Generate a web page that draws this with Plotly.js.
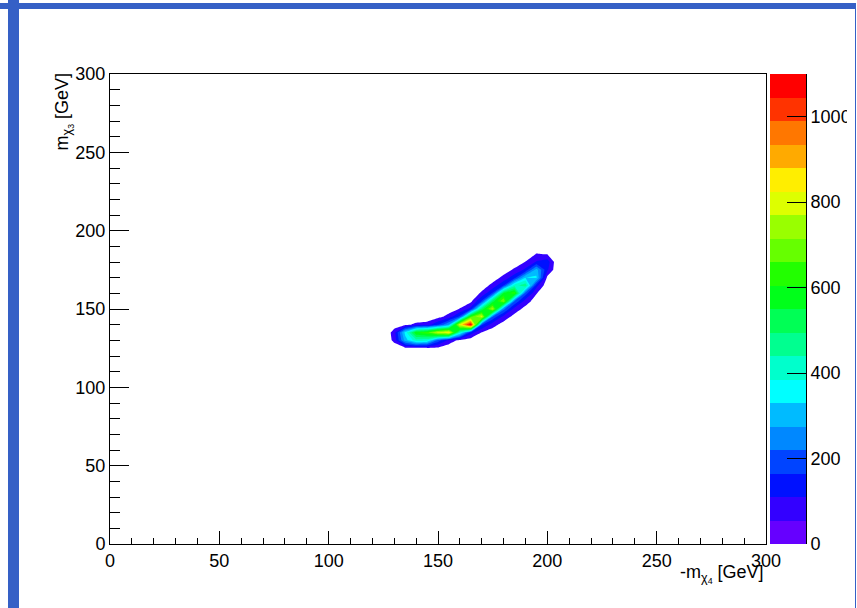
<!DOCTYPE html>
<html><head><meta charset="utf-8">
<script src="https://cdn.plot.ly/plotly-3.0.1.min.js"></script>
<style>
html,body{margin:0;padding:0;background:#fff;width:857px;height:608px;overflow:hidden;position:relative}
#plot{position:absolute;left:0;top:0;width:847px;height:608px}
.bar{position:absolute;background:#3560c6;z-index:5}
</style></head><body>
<div id="plot"></div>
<div class="bar" style="left:0;top:3px;width:856px;height:6px"></div>
<div class="bar" style="left:8px;top:0;width:11px;height:608px"></div>
<div class="bar" style="left:855px;top:3px;width:1px;height:605px"></div>
<script>
// bin centres (GeV)
const xBins = [125,130,135,140,145,150,155,160,165,170,175,180,185,190,195,200,205];
const yBins = [120,125,130,135,140,145,150,155,160,165,170,175,180,185,190];
// entries per bin, one row per yBins value
const counts = [
  [0, 1,  8,  5,  5,  3,  0,  0,   0,  0,  0,  0,  0,  0,  0,  0, 0],
  [0,19, 40, 40, 45, 40, 18,  6,   0,  0,  0,  0,  0,  0,  0,  0, 0],
  [0,72,300,420,400,199, 90, 40,  24, 15,  0,  0,  0,  0,  0,  0, 0],
  [0,82,350,600,650,790,850,400, 136, 51, 27, 12,  0,  0,  0,  0, 0],
  [0,27, 40, 70, 80,160,278,820,1100,174, 75, 33, 13,  0,  0,  0, 0],
  [0, 3,  8, 10, 12, 35, 80,183, 650,800,210, 88, 34, 16,  0,  0, 0],
  [0, 0,  0,  0,  0,  8, 23, 59, 132,500,760,238, 86, 36, 13,  0, 0],
  [0, 0,  0,  0,  0,  0,  5, 19,  40,171,520,720,217, 83, 27,  0, 0],
  [0, 0,  0,  0,  0,  0,  0,  5,  12, 66,175,560,640,192, 59,  0, 0],
  [0, 0,  0,  0,  0,  0,  0,  0,   0, 26, 72,166,420,480,129, 17, 0],
  [0, 0,  0,  0,  0,  0,  0,  0,   0, 10, 29, 70,146,330,340, 39, 0],
  [0, 0,  0,  0,  0,  0,  0,  0,   0,  0, 12, 30, 63,123,300,120, 0],
  [0, 0,  0,  0,  0,  0,  0,  0,   0,  0,  0, 13, 27, 57,116,140, 0],
  [0, 0,  0,  0,  0,  0,  0,  0,   0,  0,  0,  0, 11, 25, 58, 53, 0],
  [0, 0,  0,  0,  0,  0,  0,  0,   0,  0,  0,  0,  0, 11, 26, 26, 0]
];
// 20 contour colours, lowest level first
const palette = ['#6600ff','#3300ff','#0011ff','#0044ff','#0088ff','#00bbff','#00ffff','#00ffcc',
                 '#00ff90','#00ff55','#00ff1a','#22ff00','#66ff00','#99ff00','#ddff00','#ffee00',
                 '#ffaa00','#ff7700','#ff3300','#ff0000'];
const levelEdges = [0,55,110,165,220,275,330,385,440,495,550,605,660,715,770,825,880,935,990,1045,1100];
const zTicks = [0,200,400,600,800,1000];
const axTicks = [0,50,100,150,200,250,300];

const FONT = 'Liberation Sans, Arial, Helvetica, sans-serif';
const FS = 18;
const contourScale = [[0,'rgba(255,255,255,0)']];
for (let k = 1; k < palette.length; k++) contourScale.push([k/(palette.length-1), palette[k]]);
const barScale = palette.map((c,i)=>[i/(palette.length-1), c]);

const contour = {
  type:'contour', x:xBins, y:yBins, z:counts,
  autocontour:false,
  contours:{start:levelEdges[1], end:levelEdges[levelEdges.length-2], size:levelEdges[1]-levelEdges[0], coloring:'fill', showlines:false},
  line:{width:0, smoothing:0},
  colorscale:contourScale, showscale:false, hoverinfo:'skip', xaxis:'x', yaxis:'y'
};
const bar = {
  type:'heatmap', x:[0,1], y:levelEdges, z:palette.map((c,i)=>[i]),
  colorscale:barScale, zmin:0, zmax:palette.length-1, showscale:false, hoverinfo:'skip',
  xaxis:'x2', yaxis:'y2'
};
const L=110, R=41, T=74, B=63.5, W=847;
const pw = W-L-R;
const axCommon = {
  showgrid:false, zeroline:false, showline:true, linecolor:'#000', linewidth:1, mirror:true,
  ticks:'inside', tickcolor:'#000', tickwidth:1, tickfont:{family:FONT, size:FS, color:'#000'},
  fixedrange:true
};
const layout = {
  width:W, height:608, margin:{l:L, r:R, t:T, b:B, pad:0},
  paper_bgcolor:'#fff', plot_bgcolor:'#fff', showlegend:false,
  xaxis: Object.assign({}, axCommon, {range:[0,300], domain:[0,(766-L)/pw], tickvals:axTicks, ticklen:13,
    minor:{dtick:10, ticks:'inside', ticklen:6.5, tickcolor:'#000', tickwidth:1, showgrid:false}, anchor:'y'}),
  yaxis: Object.assign({}, axCommon, {range:[0,300], tickvals:axTicks, ticklen:19,
    minor:{dtick:10, ticks:'inside', ticklen:10, tickcolor:'#000', tickwidth:1, showgrid:false}, anchor:'x'}),
  xaxis2: {domain:[(770-L)/pw,1], range:[0,1], visible:false, anchor:'y2', fixedrange:true},
  yaxis2: {domain:[0,1], range:[0,1100], anchor:'x2', side:'right', tickvals:zTicks, ticks:'inside', ticklen:19,
    tickcolor:'#000', tickwidth:1, showline:true, linecolor:'#000', linewidth:1, showgrid:false, zeroline:false,
    tickfont:{family:FONT, size:FS, color:'#000'}, fixedrange:true},
  annotations:[
    {text:'m<sub>χ<sub>3</sub></sub> [GeV]', xref:'paper', yref:'paper', x:(64-L)/pw, y:(544.5-111.5)/470.5,
     textangle:-90, showarrow:false, xanchor:'center', yanchor:'middle', font:{family:FONT, size:FS, color:'#000'}},
    {text:'-m<sub>χ<sub>4</sub></sub> [GeV]', xref:'paper', yref:'paper', x:(766-L)/pw, y:(544.5-561)/470.5,
     showarrow:false, xanchor:'right', yanchor:'top', font:{family:FONT, size:FS, color:'#000'}}
  ]
};
Plotly.newPlot('plot', [contour, bar], layout, {staticPlot:true, displayModeBar:false});
</script>
</body></html>
